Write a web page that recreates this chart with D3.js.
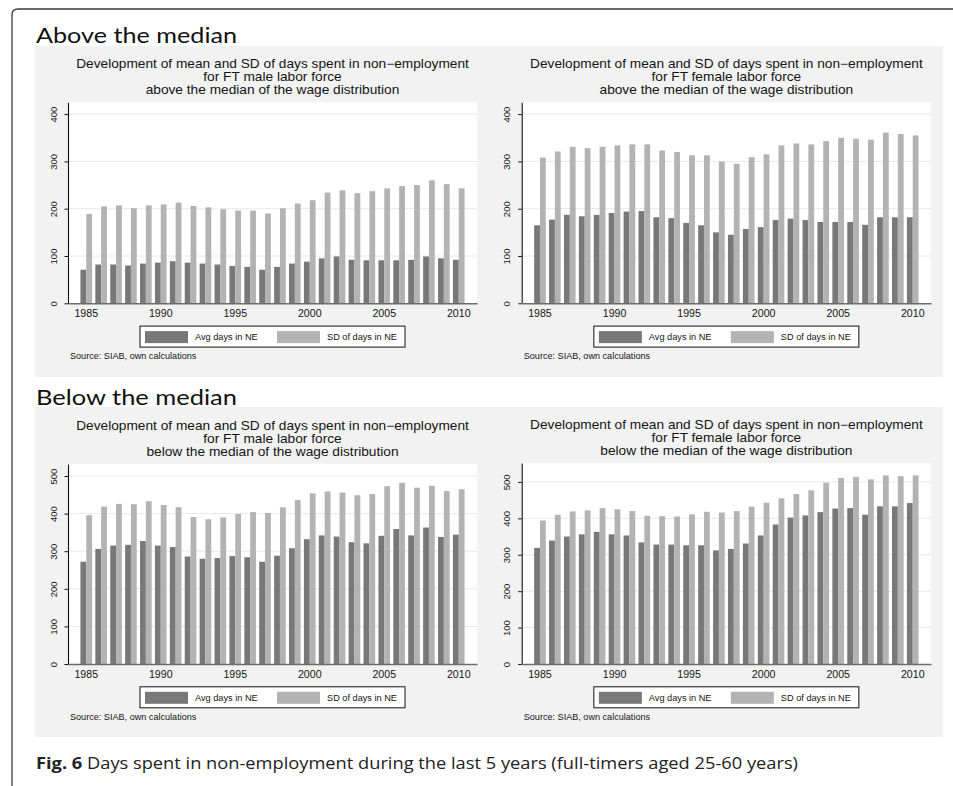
<!DOCTYPE html>
<html><head><meta charset="utf-8">
<script src="https://cdn.jsdelivr.net/npm/d3@7"></script>
<style>body{margin:0;background:#fff}</style>
</head><body>
<svg id="c" width="953" height="786"></svg>
<script>
// ---------------- data ----------------
const years = [1985,1986,1987,1988,1989,1990,1991,1992,1993,1994,1995,1996,1997,1998,1999,2000,2001,2002,2003,2004,2005,2006,2007,2008,2009,2010];
const xTickLabels = [1985,1990,1995,2000,2005,2010];
const seriesNames = ["Avg days in NE","SD of days in NE"];
const sectionHeadings = ["Above the median","Below the median"];

const maleAboveAvg = [71,82,82,80,84,86,89,86,84,82,79,77,71,77,84,88,95,99,92,91,91,91,92,99,95,92];
const maleAboveSD  = [189,205,207,201,207,209,213,206,203,199,196,196,190,201,211,218,234,239,233,237,243,248,250,260,252,243];
const femaleAboveAvg = [165,177,187,184,187,191,194,195,182,180,170,165,150,145,157,161,176,179,176,172,172,172,166,182,182,182];
const femaleAboveSD  = [308,321,331,328,331,334,336,336,323,320,313,313,300,295,309,315,334,338,336,343,350,348,346,361,358,355];
const maleBelowAvg = [272,306,315,317,327,315,311,286,280,282,287,284,272,288,308,332,342,339,324,321,341,359,342,363,338,344];
const maleBelowSD  = [396,419,426,425,433,423,417,391,385,390,399,404,402,417,436,454,459,456,449,452,473,482,469,474,460,465];
const femaleBelowAvg = [319,339,350,356,363,356,353,334,328,328,326,326,312,316,331,353,383,402,408,417,427,428,410,433,433,442];
const femaleBelowSD  = [394,410,419,422,428,425,420,407,406,405,411,418,416,420,432,443,455,467,477,498,511,514,507,518,516,518];

const ticksAbove = [0,100,200,300,400];
const ticksBelow = [0,100,200,300,400,500];

const titleLine1 = "Development of mean and SD of days spent in non\u2212employment";
const titlesMale = ["for FT male labor force","for FT female labor force"];
const titleLine3 = ["above the median of the wage distribution","below the median of the wage distribution"];
const sourceText = "Source: SIAB, own calculations";
const captionBold = "Fig. 6";
const captionText = " Days spent in non-employment during the last 5 years (full-timers aged 25-60 years)";

// ---------------- layout ----------------
const panels = [
  {avg: maleAboveAvg,   sd: maleAboveSD,   t2: titlesMale[0], t3: titleLine3[0], ticks: ticksAbove, ymax: 425,
   bx0: 35, bx1: 489, by0: 46, by1: 377, L: 68,  R: 477, T: 102.3, B: 303.3},
  {avg: femaleAboveAvg, sd: femaleAboveSD, t2: titlesMale[1], t3: titleLine3[0], ticks: ticksAbove, ymax: 425,
   bx0: 489, bx1: 943, by0: 46, by1: 377, L: 521.7, R: 931, T: 102.3, B: 303.3},
  {avg: maleBelowAvg,   sd: maleBelowSD,   t2: titlesMale[0], t3: titleLine3[1], ticks: ticksBelow, ymax: 532,
   bx0: 35, bx1: 489, by0: 407, by1: 737, L: 68,  R: 477, T: 464, B: 664},
  {avg: femaleBelowAvg, sd: femaleBelowSD, t2: titlesMale[1], t3: titleLine3[1], ticks: ticksBelow, ymax: 552,
   bx0: 489, bx1: 943, by0: 407, by1: 737, L: 521.7, R: 931, T: 463, B: 664}
];

const DARK = "#787878", LIGHT = "#b3b3b3", BG = "#f2f2f2", GRID = "#e8e8e8";
const SANS = "'Liberation Sans', Arial, sans-serif";

const svg = d3.select("#c");

// outer frame (rounded top-left corner)
svg.append("path")
  .attr("d", "M12,790 L12,15 Q12,9 18,9 L960,9")
  .attr("fill", "none").attr("stroke", "#3a3a3a").attr("stroke-width", 1.3);

// section headings
[[sectionHeadings[0], 43], [sectionHeadings[1], 405]].forEach(([t, y]) => {
  svg.append("text").attr("x", 36).attr("y", y)
    .attr("font-family", "Lato, 'Open Sans', sans-serif").attr("font-size", 22)
    .attr("textLength", 201).attr("lengthAdjust", "spacingAndGlyphs")
    .attr("fill", "#111").text(t);
});

function sText(g, x, y, txt, size, sx, anchor) {
  return g.append("text")
    .attr("transform", `translate(${x},${y}) scale(${sx},1)`)
    .attr("text-anchor", anchor || "middle")
    .attr("font-family", SANS).attr("font-size", size).attr("fill", "#141414")
    .text(txt);
}

panels.forEach(p => {
  const g = svg.append("g");
  g.append("rect").attr("x", p.bx0).attr("y", p.by0).attr("width", p.bx1 - p.bx0).attr("height", p.by1 - p.by0).attr("fill", BG);
  g.append("rect").attr("x", p.L).attr("y", p.T).attr("width", p.R - p.L).attr("height", p.B - p.T).attr("fill", "#fff");

  const x = d3.scaleBand().domain(years).range([p.L, p.R]).paddingInner(0.22).paddingOuter(0.835);
  const xs = d3.scaleBand().domain([0, 1]).range([0, x.bandwidth()]);
  const y = d3.scaleLinear().domain([0, p.ymax]).range([p.B, p.T]);

  // grid
  g.selectAll(".grid").data(p.ticks.filter(d => d > 0)).join("line")
    .attr("x1", p.L).attr("x2", p.R).attr("y1", d => y(d)).attr("y2", d => y(d))
    .attr("stroke", GRID).attr("stroke-width", 1);

  // bars
  const rows = years.map((yr, i) => ({yr, v: [p.avg[i], p.sd[i]]}));
  const grp = g.selectAll(".yr").data(rows).join("g").attr("transform", d => `translate(${x(d.yr)},0)`);
  grp.selectAll("rect").data(d => d.v.map((v, k) => ({v, k}))).join("rect")
    .attr("x", d => xs(d.k)).attr("width", xs.bandwidth())
    .attr("y", d => y(d.v)).attr("height", d => y(0) - y(d.v))
    .attr("fill", d => d.k === 0 ? DARK : LIGHT);

  // y axis
  const ya = g.append("g").attr("transform", `translate(${p.L},0)`)
    .call(d3.axisLeft(y).tickValues(p.ticks).tickSize(3.5).tickSizeOuter(0));
  ya.select(".domain").attr("stroke", "#111").attr("stroke-width", 1.1);
  ya.selectAll(".tick line").attr("stroke", "#111");
  ya.selectAll(".tick text")
    .attr("x", null).attr("dy", null)
    .attr("transform", "translate(-11.3,0) rotate(-90)")
    .attr("text-anchor", "middle")
    .attr("font-family", SANS).attr("font-size", 9.5).attr("fill", "#141414");

  // x axis
  const xa = g.append("g").attr("transform", `translate(0,${p.B})`)
    .call(d3.axisBottom(x).tickValues(xTickLabels).tickSize(0).tickSizeOuter(0));
  xa.select(".domain").attr("stroke", "#6b6b6b").attr("stroke-width", 1.6);
  xa.selectAll(".tick text").attr("y", 13.6).attr("dy", null)
    .attr("font-family", SANS).attr("font-size", 10.6).attr("fill", "#141414");

  // titles
  const cx = (p.L + p.R) / 2;
  sText(g, cx, p.T - 34.2, titleLine1, 12, 1.143);
  sText(g, cx, p.T - 21.2, p.t2, 12, 1.143);
  sText(g, cx, p.T - 8.4, p.t3, 12, 1.143);

  // legend
  const lx0 = cx - 132.5, ly0 = p.B + 22.8;
  g.append("rect").attr("x", lx0).attr("y", ly0).attr("width", 265).attr("height", 21)
    .attr("fill", "#fff").attr("stroke", "#111").attr("stroke-width", 1);
  seriesNames.forEach((s, k) => {
    const ox = lx0 + 5 + k * 132;
    g.append("rect").attr("x", ox).attr("y", ly0 + 5).attr("width", 43).attr("height", 12)
      .attr("fill", k === 0 ? DARK : LIGHT);
    sText(g, ox + 50, ly0 + 13.8, s, 9.2, 1.0, "start");
  });

  // source
  sText(g, p.L + 2, p.B + 56, sourceText, 9.1, 1.0, "start");
});

// caption
const cap = svg.append("text").attr("x", 36).attr("y", 769)
  .attr("font-family", "'Open Sans', 'Noto Sans', sans-serif").attr("font-size", 16.5).attr("fill", "#222")
  .attr("textLength", 762).attr("lengthAdjust", "spacingAndGlyphs");
cap.append("tspan").attr("font-weight", "bold").text(captionBold);
cap.append("tspan").text(captionText);
</script>
</body></html>
